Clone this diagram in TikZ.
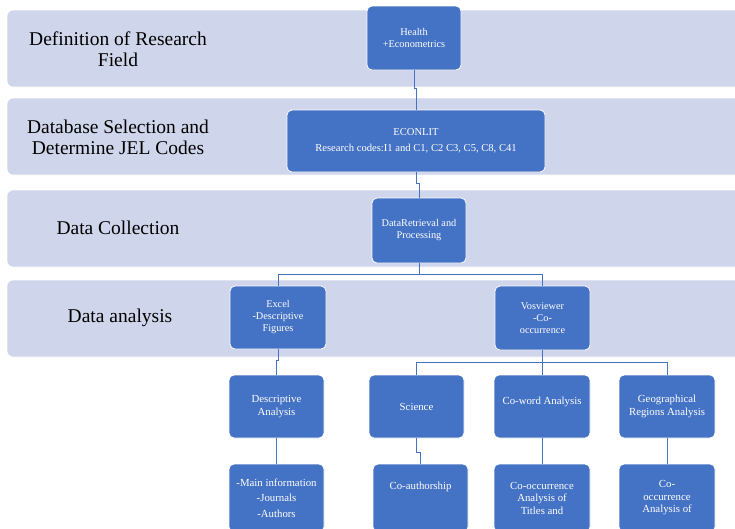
\documentclass[tikz,border=0pt]{standalone}
\usepackage{fontspec}
\setmainfont{Liberation Serif}
\definecolor{bandcol}{HTML}{CFD5EA}
\definecolor{boxblue}{HTML}{4472C4}
\definecolor{linecol}{HTML}{4472C4}
\begin{document}
\begin{tikzpicture}[x=1pt,y=-1pt,
  band/.style={fill=bandcol, draw=white, line width=0.6pt, rounded corners=6pt},
  bandlabel/.style={font=\fontsize{19.5}{21}\selectfont, align=center, text=black},
  box/.style={fill=boxblue, draw=white, line width=0.8pt, rounded corners=5pt, text=white, align=center, inner sep=1pt},
  small/.style={font=\fontsize{10.3}{12}\selectfont},
  mid/.style={font=\fontsize{10.8}{12.5}\selectfont},
  conn/.style={draw=linecol, line width=0.8pt}
]
\useasboundingbox (0,0) rectangle (735,528);
\clip (0,0) rectangle (735,528);
% bands
\path[band] (7,10) rectangle (760,87);
\path[band] (7,98) rectangle (760,175);
\path[band] (7,190) rectangle (760,267);
\path[band] (7,280) rectangle (760,357);
\node[bandlabel] (l1) at (118,49) {Definition of Research\\Field};
\node[bandlabel] (l2) at (118,137) {Database Selection and\\Determine JEL Codes};
\node[bandlabel] (l3) at (118,228) {Data Collection};
\node[bandlabel] (l4) at (120,318) {Data analysis};
% boxes
\node[box, small, minimum width=94pt, minimum height=64pt] (health) at (414,38) {Health\\+Econometrics};
\node[box, minimum width=258pt, minimum height=62pt, font=\fontsize{10.6}{16}\selectfont] (econ) at (416,141) {ECONLIT\\Research codes:I1 and C1, C2 C3, C5, C8, C41};
\node[box, small, minimum width=94pt, minimum height=65pt] (data) at (419,230.5) {DataRetrieval and\\Processing};
\node[box, small, minimum width=96pt, minimum height=63pt] (excel) at (278,317.5) {Excel\\-Descriptive\\Figures};
\node[box, small, minimum width=95pt, minimum height=64pt] (vos) at (542.5,318) {Vosviewer\\-Co-\\occurrence};
\node[box, mid, minimum width=95pt, minimum height=63pt] (desc) at (276.5,406.5) {Descriptive\\Analysis};
\node[box, mid, minimum width=95pt, minimum height=63pt] (sci) at (416.5,406.5) {Science};
\node[box, mid, minimum width=96pt, minimum height=63pt] (coword) at (542,406.5) {Co-word Analysis\\\mbox{}};
\node[box, mid, minimum width=96pt, minimum height=63pt] (geo) at (667,406.5) {Geographical\\Regions Analysis};
\node[box, mid, minimum width=95pt, minimum height=68pt, font=\fontsize{10.8}{15.5}\selectfont] (main) at (276.5,498) {-Main information\\-Journals\\-Authors};
\node[box, mid, minimum width=95pt, minimum height=68pt] (coauth) at (420.5,498) {Co-authorship\\\mbox{}\\\mbox{}};
\node[box, mid, minimum width=96pt, minimum height=68pt] (cooc1) at (542,498) {Co-occurrence\\Analysis of\\Titles and};
\node[box, mid, minimum width=96pt, minimum height=68pt] (cooc2) at (667,498) {Co-\\occurrence\\Analysis of};
% connectors
\draw[conn] (health.south) -- ++(0,18) -| (econ.north);
\draw[conn] (econ.south) -- ++(0,11) -| (data.north);
\draw[conn] (data.south) -- ++(0,11) -| (excel.north);
\draw[conn] (data.south) -- ++(0,11) -| (vos.north);
\draw[conn] (excel.south) -- ++(0,11) -| (desc.north);
\draw[conn] (vos.south) -- ++(0,12) -| (sci.north);
\draw[conn] (vos.south) -- ++(0,12) -| (coword.north);
\draw[conn] (vos.south) -- ++(0,12) -| (geo.north);
\draw[conn] (desc.south) -- ++(0,14) -| (main.north);
\draw[conn] (sci.south) -- ++(0,14) -| (coauth.north);
\draw[conn] (coword.south) -- (cooc1.north);
\draw[conn] (geo.south) -- (cooc2.north);
\end{tikzpicture}
\end{document}
